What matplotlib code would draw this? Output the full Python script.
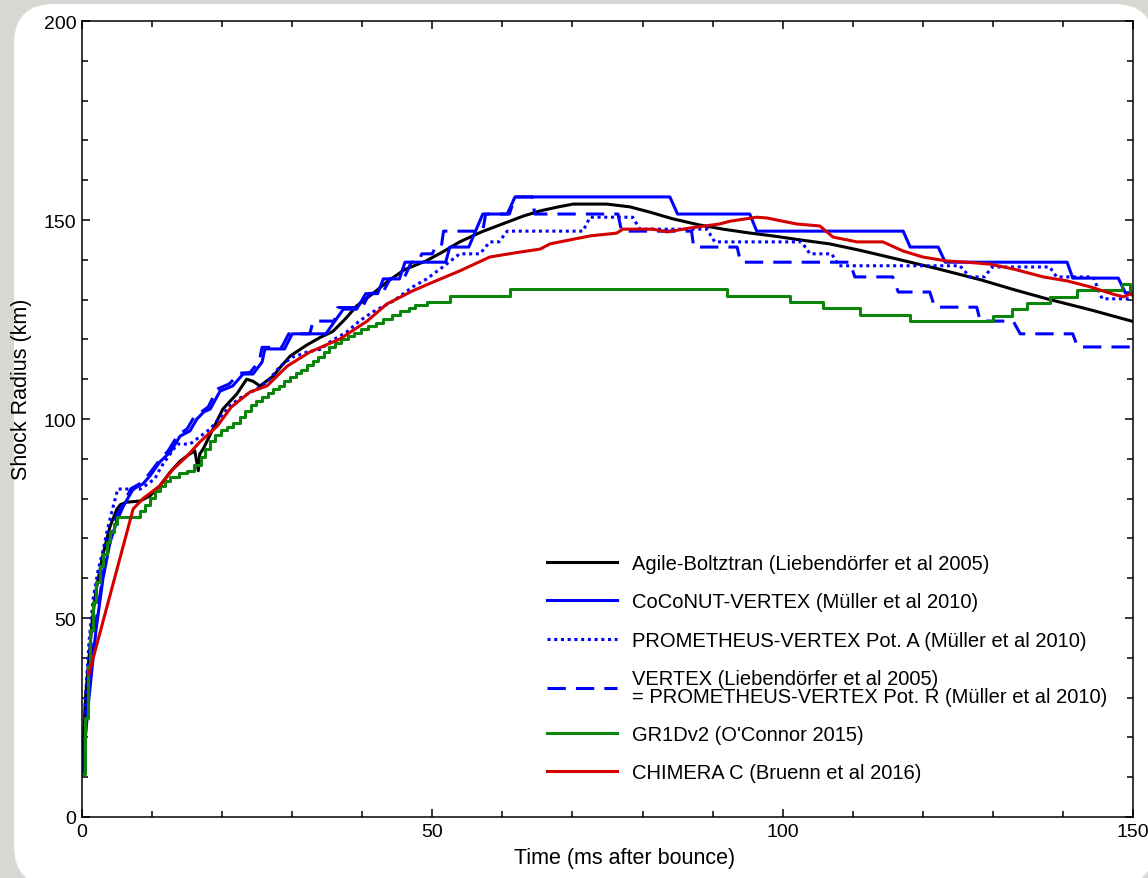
import matplotlib
matplotlib.use("Agg")
import matplotlib.pyplot as plt
import matplotlib.patches as mpatches
import matplotlib.transforms as mtransforms
from matplotlib.ticker import MultipleLocator

plt.rcParams['font.family'] = ['Liberation Sans', 'DejaVu Sans']

# shock radius vs time after bounce, (t [ms], R [km]) pairs per code
agile_t = [0, 0.5, 1, 1.5, 2, 3, 4, 5, 5.5, 6.4, 8.3, 9.7, 11.1, 12.6, 14, 15.2, 16.1, 16.6, 16.8,
           17.3, 18.7, 20.1, 22.1, 23.5, 24.4, 25.4, 27.3, 28.3, 29.7, 32, 34, 35.8, 37.5, 39.2,
           41.5, 43.5, 46, 49.2, 51.5, 53.9, 57, 60, 63, 65.4, 68, 70.1, 74.9, 78.2, 81, 84.3,
           88, 91.5, 95, 98.6, 102.5, 106.7, 111, 116.3, 122, 128.2, 133, 137.7, 144, 150]
agile_r = [10.8, 30, 40, 50, 57, 66, 73, 77.4, 78.5, 79.1, 79.4, 80.7, 83.2, 86.7, 89.4, 91, 92, 87,
           91.2, 92.5, 97.5, 102.5, 106.3, 110, 109.5, 108.3, 110.8, 113, 115.8, 118.5, 120.5, 122,
           125, 128.4, 131.5, 134.4, 137.5, 139.8, 142, 144.5, 147, 149, 151, 152.3, 153.3, 154,
           154, 153.3, 152, 150.3, 148.8, 147.7, 146.8, 146, 145, 144, 142.4, 140.2, 137.8, 135,
           132.5, 130.2, 127.4, 124.5]

coconut_t = [0, 1, 2, 3, 4, 5, 5.9, 7.3, 8.7, 9.7, 11.1, 12.6, 14, 15.4, 16.4, 17.4, 18.3, 19.7,
             21.5, 23, 24.4, 25.7, 26.1, 28.9, 30, 34.8, 37.3, 39.2, 40.5, 42.2, 43, 45.3, 46.1,
             51.9, 52.5, 55.2, 57.2, 60.7, 61.8, 83.9, 85, 95.3, 96.3, 117.2, 118.2, 122.2, 123.2,
             140.6, 141.4, 147.9, 148.9, 150]
coconut_r = [10.8, 30, 47, 60, 69, 74.5, 78.1, 82.4, 83.7, 85.7, 89.2, 91.7, 95.7, 97, 100, 101.8,
             102.5, 107, 108.3, 111.3, 111.3, 114.3, 117.6, 117.6, 121.4, 121.4, 127.6, 127.6,
             131.5, 131.5, 135.2, 135.2, 139.4, 139.4, 143.2, 143.2, 151.5, 151.5, 155.8, 155.8,
             151.5, 151.5, 147.2, 147.2, 143.2, 143.2, 139.4, 139.4, 135.4, 135.4, 131.7, 131.7]

pota_t = [0, 0.5, 1, 1.6, 2.3, 3, 3.6, 4.3, 5.1, 8.3, 9, 10.4, 11.3, 12.1, 13.6, 15.4, 16.4, 18.3,
          19.5, 21.1, 22.5, 24.4, 26.4, 28.3, 30, 32.1, 34, 35.5, 37.8, 39.5, 41.5, 44.4, 47.2,
          49.2, 51.5, 53.9, 56.8, 58.2, 59.5, 60.7, 71.5, 72.5, 78.6, 79.6, 89.2, 90.3, 102.7,
          103.9, 107, 108, 125.3, 126.7, 128.8, 129.9, 138.1, 139.1, 144.3, 145.6, 150]
pota_r = [10.8, 30, 44, 55, 62, 67, 72, 77, 82.4, 82.4, 83.2, 85, 88, 90, 93.7, 93.7, 95, 97.5,
          100, 103.3, 105.2, 107, 109.3, 113.3, 115.5, 116.8, 117.5, 119.5, 121.9, 124.5, 126.9,
          129.6, 133.2, 135.2, 138.2, 141.5, 141.5, 144.5, 144.5, 147.2, 147.2, 150.7, 150.7,
          147.7, 147.7, 144.5, 144.5, 141.5, 141.5, 138.5, 138.5, 135.7, 135.7, 138.2, 138.2,
          135.7, 135.7, 130.2, 130.2]

potr_t = [0, 1, 2, 3, 4, 5, 5.8, 7, 8.5, 9.5, 11, 12.3, 13.7, 15, 16, 18, 19.3, 21, 22.5, 24,
          25.3, 25.7, 28.5, 29.5, 32.5, 33, 36, 36.5, 40, 41, 43, 44, 46, 47, 48, 48.5, 50, 50.5,
          51.3, 51.6, 57.2, 57.6, 61, 61.8, 64.3, 64.6, 76.5, 77, 87, 87.3, 93.5, 94, 109.6,
          110.3, 115.7, 116.5, 121, 121.7, 127.7, 128.2, 132.9, 133.9, 141.4, 142.1, 150]
potr_r = [10.8, 32, 49, 61, 70, 76, 78.5, 82.5, 84, 86, 89.5, 92, 96, 97.5, 100.5, 103, 107.5,
          108.8, 111.5, 111.7, 114.5, 118, 118, 121.4, 121.4, 124.6, 124.6, 128, 128, 131.5, 132,
          135.3, 135.5, 139.4, 139.4, 141.5, 141.5, 143.5, 143.5, 147.2, 147.2, 151.5, 151.5,
          155.8, 155.8, 151.5, 151.5, 147.2, 147.2, 143.2, 143.2, 139.4, 139.4, 135.7, 135.7,
          131.9, 131.9, 128.1, 128.1, 124.6, 124.6, 121.4, 121.4, 118.1, 118.1]

# GR1D output is piecewise constant in time, drawn as steps
gr1d_t = [0, 0.4, 0.8, 1.2, 1.6, 2.0, 2.5, 3.0, 3.5, 4.0, 4.5, 5.0, 8.3, 9.0, 9.7, 10.4, 11.1,
          11.8, 12.6, 13.8, 15.0, 16.0, 17.0, 17.6, 18.3, 19.0, 19.8, 20.7, 21.6, 22.5, 23.3,
          24.1, 24.9, 25.7, 26.5, 27.3, 28.1, 28.9, 29.7, 30.5, 31.3, 32.1, 32.9, 33.7, 34.5,
          35.3, 36.1, 37.0, 37.9, 38.8, 39.8, 40.8, 41.9, 43.0, 44.2, 45.4, 46.6, 47.5, 49.2,
          52.5, 61.1, 92.0, 101.0, 105.8, 111.0, 118.2, 130.0, 132.7, 134.9, 138.1, 142.0,
          148.4, 149.6, 150]
gr1d_r = [10.8, 25, 38, 47, 54, 59, 63, 66, 69, 71.5, 73.5, 75.4, 77, 78.5, 80.2, 81.8, 83.2,
          84.5, 85.5, 86.4, 87, 88.5, 90.5, 92.5, 94.5, 96, 97.2, 98, 99, 100.5, 102, 103.4,
          104.5, 105.6, 106.6, 107.5, 108.3, 109.5, 110.6, 111.5, 112.4, 113.5, 114.5, 115.6,
          116.8, 118, 119, 120, 120.9, 121.7, 122.5, 123.3, 124.2, 125.1, 126.1, 127.1, 128,
          128.6, 129.4, 130.9, 132.7, 130.9, 129.4, 127.9, 126.1, 124.6, 125.9, 127.6, 129.1,
          130.7, 132.4, 133.9, 131.9, 131.9]

chimera_t = [1.0, 7.3, 8.7, 11.1, 13, 15, 16.8, 19.3, 21.3, 24, 26.4, 29.3, 32.5, 36.8, 40.7,
             43.5, 47.2, 50.1, 53.9, 58.2, 62, 65.4, 66.8, 72.5, 76.3, 77.2, 81.5, 83.5, 86.8,
             91, 92.5, 96.3, 97.8, 100, 102, 105.3, 107.2, 110.6, 114.3, 117.2, 120, 123.4,
             126.3, 129.6, 132.9, 137.2, 140.6, 143.9, 147.1, 148.6, 149.6, 150]
chimera_r = [36, 77.4, 80, 83.2, 87.4, 90.7, 94.2, 98.2, 103, 106.8, 108.3, 113.3, 116.8, 120.1,
             124.6, 128.9, 132.2, 134.4, 137.2, 140.7, 141.8, 142.7, 144, 146, 146.7, 147.7,
             147.7, 147, 148, 149, 149.7, 150.7, 150.5, 149.7, 149, 148.5, 145.7, 144.5, 144.5,
             142.2, 140.7, 139.7, 139.4, 138.9, 137.7, 135.7, 134.7, 133.2, 131.4, 130.7, 131.4,
             131]

labels = ["Agile-Boltztran (Liebendörfer et al 2005)",
          "CoCoNUT-VERTEX (Müller et al 2010)",
          "PROMETHEUS-VERTEX Pot. A (Müller et al 2010)",
          "VERTEX (Liebendörfer et al 2005)\n= PROMETHEUS-VERTEX Pot. R (Müller et al 2010)",
          "GR1Dv2 (O'Connor 2015)",
          "CHIMERA C (Bruenn et al 2016)"]

W, H = 1148, 879
fig = plt.figure(figsize=(W / 100, H / 100), dpi=100)
fig.patch.set_facecolor('#d9d7d3')

# white rounded card behind the plot, in pixel coordinates
card = mpatches.FancyBboxPatch((14, -8), 1140, 882,
                               boxstyle="round,pad=0,rounding_size=40",
                               facecolor='white', edgecolor='none', zorder=-10,
                               transform=mtransforms.IdentityTransform())
fig.add_artist(card)

ax = fig.add_axes([82 / W, 1 - 818 / H, (1133 - 82) / W, (818 - 22) / H])
ax.set_facecolor('none')

lw = 2.2
ax.plot(agile_t, agile_r, color='black', lw=lw, label=labels[0])
ax.plot(coconut_t, coconut_r, color='#0000ff', lw=lw, label=labels[1])
ax.plot(pota_t, pota_r, color='#0000ff', lw=lw, ls=(0, (1, 1.2)), label=labels[2])
ax.plot(potr_t, potr_r, color='#0000ff', lw=lw, ls=(0, (6, 3.3)), label=labels[3])
ax.plot(gr1d_t, gr1d_r, color='#0b860b', lw=lw, drawstyle='steps-post', label=labels[4])
ax.plot(chimera_t, chimera_r, color='#d40000', lw=lw, label=labels[5])

ax.set_xlim(0, 150)
ax.set_ylim(0, 200)
ax.xaxis.set_major_locator(MultipleLocator(50))
ax.xaxis.set_minor_locator(MultipleLocator(10))
ax.yaxis.set_major_locator(MultipleLocator(50))
ax.yaxis.set_minor_locator(MultipleLocator(10))
ax.tick_params(which='both', direction='in', top=True, right=True, width=1.1, labelsize=14)
ax.tick_params(which='major', length=6, pad=4)
ax.tick_params(which='minor', length=4)
for s in ax.spines.values():
    s.set_linewidth(1.1)

ax.set_xlabel("Time (ms after bounce)", fontsize=15.5)
ax.set_ylabel("Shock Radius (km)", fontsize=15.5)
ax.xaxis.set_label_coords(0.516, -0.038)
ax.yaxis.set_label_coords(-0.048, 0.539)

leg = ax.legend(loc='upper left', bbox_to_anchor=(0.442, 0.330), frameon=False, fontsize=14.5,
                handlelength=3.5, handletextpad=0.75, labelspacing=0.95, borderpad=0,
                borderaxespad=0)
for t in leg.get_texts():
    t.set_linespacing(0.95)

fig.savefig("out.png", dpi=100, facecolor=fig.get_facecolor())
